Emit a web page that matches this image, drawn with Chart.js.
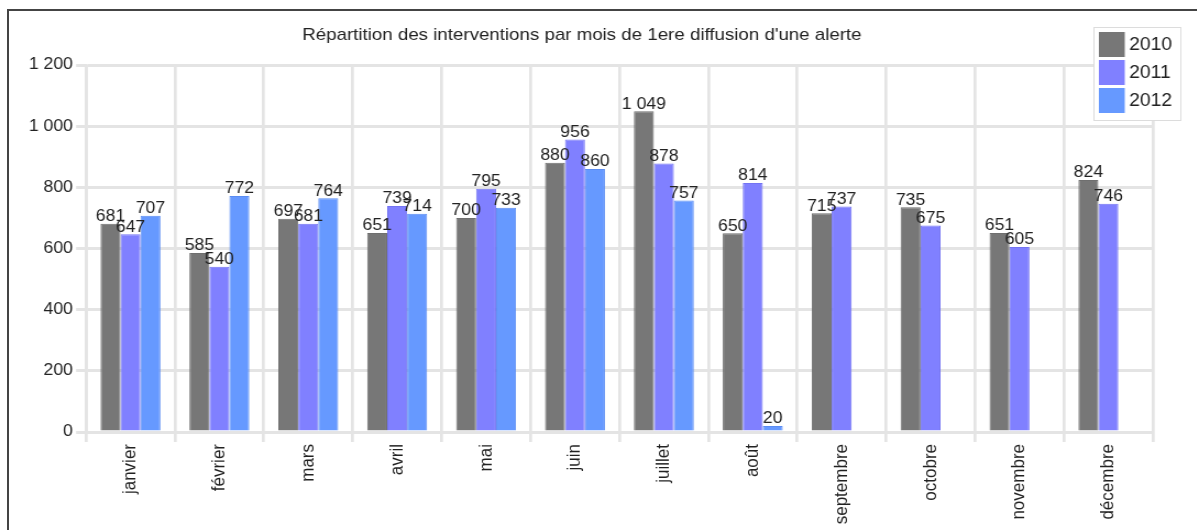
<!DOCTYPE html>
<html>
<head>
<meta charset="utf-8">
<script src="https://cdn.jsdelivr.net/npm/chart.js@4"></script>
<style>
    html, body { margin: 0; padding: 0; background: #fff; overflow: hidden; }
    #frame { position: absolute; left: 7px; top: 9px; width: 1300px; height: 600px; border-left: 2px solid #444; border-top: 2px solid #444; }
    /* the reference is slightly stretched horizontally */
    #wrap { position: absolute; left: 0; top: 0; transform: scaleX(1.1); transform-origin: 0 0; }
</style>
</head>
<body>
<div id="frame"></div>
<div id="wrap"><canvas id="chart" width="1088" height="530"></canvas></div>
<script>
// Data
const months = ['janvier', 'février', 'mars', 'avril', 'mai', 'juin', 'juillet', 'août', 'septembre', 'octobre', 'novembre', 'décembre'];
const series2010 = [681, 585, 697, 651, 700, 880, 1049, 650, 715, 735, 651, 824];
const series2011 = [647, 540, 681, 739, 795, 956, 878, 814, 737, 675, 605, 746];
const series2012 = [707, 772, 764, 714, 733, 860, 757, 20, null, null, null, null];
const yTicks = [0, 200, 400, 600, 800, 1000, 1200];
const chartTitle = "Répartition des interventions par mois de 1ere diffusion d'une alerte";

const FONT = '"Liberation Sans", Arial, sans-serif';

// Thousands separator like "1 049"
function fmt(n) {
    return String(n).replace(/\B(?=(\d{3})+(?!\d))/g, ' ');
}

// Value labels above bars
const valueLabels = {
    id: 'valueLabels',
    afterDatasetsDraw(chart) {
        const ctx = chart.ctx;
        ctx.save();
        ctx.font = '16px ' + FONT;
        ctx.fillStyle = '#222';
        ctx.textAlign = 'center';
        ctx.textBaseline = 'bottom';
        chart.data.datasets.forEach((ds, i) => {
            const meta = chart.getDatasetMeta(i);
            meta.data.forEach((bar, j) => {
                const v = ds.data[j];
                if (v === null || v === undefined) return;
                ctx.fillText(fmt(v), bar.x, bar.y + 1);
            });
        });
        ctx.restore();
    }
};

// Title, centred a bit left of the plot
const pageTitle = {
    id: 'pageTitle',
    afterDraw(chart) {
        const ctx = chart.ctx;
        ctx.save();
        ctx.font = '17px ' + FONT;
        ctx.fillStyle = '#222';
        ctx.textAlign = 'center';
        ctx.textBaseline = 'middle';
        ctx.fillText(chartTitle, 529, 35);
        ctx.restore();
    }
};

// Boxed legend overlapping the top right corner of the plot
const boxLegend = {
    id: 'boxLegend',
    afterDraw(chart) {
        const ctx = chart.ctx;
        const x0 = 994.5, y0 = 27, w = 79, h = 93;
        ctx.save();
        ctx.fillStyle = '#fff';
        ctx.fillRect(x0, y0, w, h);
        ctx.strokeStyle = '#dcdcdc';
        ctx.lineWidth = 1;
        ctx.strokeRect(x0, y0 + 0.5, w, h);
        ctx.font = '17.5px ' + FONT;
        ctx.textBaseline = 'middle';
        ctx.textAlign = 'left';
        chart.data.datasets.forEach((ds, i) => {
            const y = y0 + 5 + i * 28;
            ctx.fillStyle = ds.backgroundColor;
            ctx.fillRect(x0 + 4.5, y, 23.5, 25);
            ctx.fillStyle = '#222';
            ctx.fillText(ds.label, x0 + 32, y + 13);
        });
        ctx.restore();
    }
};

const gridColor = '#e4e4e4';

new Chart(document.getElementById('chart'), {
    type: 'bar',
    data: {
        labels: months,
        datasets: [
            { label: '2010', data: series2010, backgroundColor: '#777777', borderColor: '#6f6f6f', borderWidth: 1 },
            { label: '2011', data: series2011, backgroundColor: '#8080ff', borderColor: '#7373f2', borderWidth: 1 },
            { label: '2012', data: series2012, backgroundColor: '#6699ff', borderColor: '#5a8cf2', borderWidth: 1 }
        ]
    },
    options: {
        responsive: false,
        animation: false,
        events: [],
        layout: { padding: { left: 0, right: 40, top: 65, bottom: 0 } },
        plugins: {
            legend: { display: false },
            title: { display: false },
            tooltip: { enabled: false }
        },
        datasets: {
            bar: { categoryPercentage: 0.674, barPercentage: 1.0 }
        },
        scales: {
            x: {
                grid: { color: gridColor, lineWidth: 2.7, tickLength: 10, offset: true },
                border: { color: gridColor, width: 3 },
                ticks: {
                    color: '#222',
                    font: { size: 17, family: FONT },
                    maxRotation: 90,
                    minRotation: 90,
                    padding: 2,
                    autoSkip: false
                },
                afterFit(scale) { scale.height = 98; }
            },
            y: {
                min: 0,
                max: 1200,
                afterBuildTicks(scale) { scale.ticks = yTicks.map(v => ({ value: v })); },
                grid: { color: gridColor, lineWidth: 3, tickLength: 9 },
                border: { color: gridColor, width: 2.7 },
                ticks: {
                    color: '#222',
                    font: { size: 16, family: FONT },
                    padding: 3,
                    callback: v => fmt(v)
                },
                afterFit(scale) { scale.width = 78.2; }
            }
        }
    },
    plugins: [valueLabels, pageTitle, boxLegend]
});
</script>
</body>
</html>
